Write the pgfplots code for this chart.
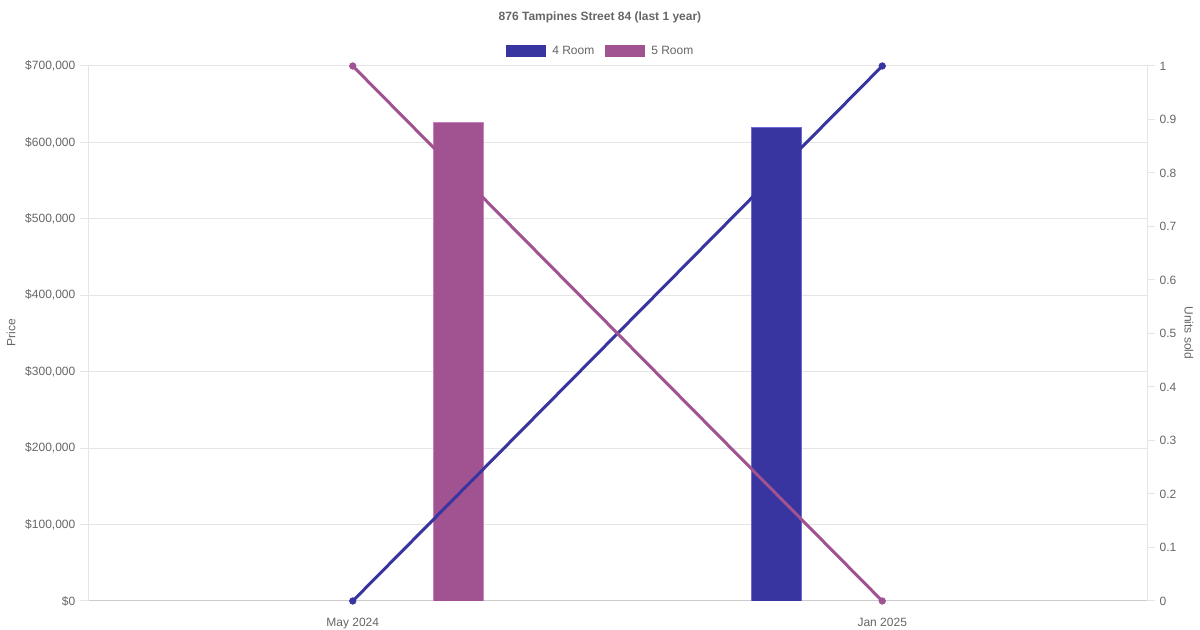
\documentclass[border=0pt]{standalone}
\usepackage{fontspec}
\setmainfont{Liberation Sans}
\usepackage{pgfplots}
\pgfplotsset{compat=1.18}
\definecolor{cfour}{RGB}{57,53,160}
\definecolor{cfive}{RGB}{160,82,145}
\definecolor{cfourl}{RGB}{110,106,210}
\definecolor{cfivel}{RGB}{200,130,185}
\definecolor{gridc}{RGB}{229,229,229}
\definecolor{axisc}{RGB}{204,204,204}
\definecolor{txt}{RGB}{102,102,102}
\begin{document}
\begin{tikzpicture}
\path[use as bounding box, fill=white] (0,0) rectangle (900pt,472.5pt);
\pgfplotsset{
  common/.style={
    at={(66pt,21.75pt)}, anchor=south west,
    width=794.25pt, height=401.25pt, scale only axis,
    xmin=-0.5, xmax=1.5,
    /pgf/number format/assume math mode=true,
    tick label style={font=\fontsize{9}{11}\selectfont, text=txt},
    tick align=outside, major tick length=6pt,
    scaled y ticks=false,
  }
}
\begin{axis}[common,
  ymin=0, ymax=700000,
  axis y line*=left, axis x line*=bottom,
  x axis line style={draw=axisc, line width=0.75pt},
  y axis line style={draw=gridc, line width=0.75pt},
  xtick={0,1}, xticklabels={May 2024, Jan 2025},
  xtick style={draw=none},
  xticklabel style={yshift=-3pt},
  ytick={0,100000,200000,300000,400000,500000,600000,700000},
  yticklabels={{\$0},{\$100,000},{\$200,000},{\$300,000},{\$400,000},{\$500,000},{\$600,000},{\$700,000}},
  ytick style={draw=gridc, line width=0.75pt},
  ymajorgrids, grid style={draw=gridc, line width=0.75pt},
  axis line style={-},
]
\addplot[ybar, bar width=37.5pt, bar shift=-79.5pt, fill=cfour, draw=cfourl, line width=0.5pt] coordinates {(1,619500)};
\addplot[ybar, bar width=37.5pt, bar shift=79.5pt, fill=cfive, draw=cfivel, line width=0.5pt] coordinates {(0,626700)};
\end{axis}
\begin{axis}[common,
  ymin=0, ymax=1, clip=false,
  axis y line*=right, axis x line=none,
  y axis line style={draw=gridc, line width=0.75pt, -},
  ytick={0,0.1,0.2,0.3,0.4,0.5,0.6,0.7,0.8,0.9,1},
  yticklabels={0,0.1,0.2,0.3,0.4,0.5,0.6,0.7,0.8,0.9,1},
  ytick style={draw=gridc, line width=0.75pt},
]
\addplot[cfour, line width=2.25pt, mark=*, mark size=2.5pt, mark options={solid, fill=cfour, draw=cfour, line width=0.4pt}] coordinates {(0,0) (1,1)};
\addplot[cfive, line width=2.25pt, mark=*, mark size=2.5pt, mark options={solid, fill=cfive, draw=cfive, line width=0.4pt}] coordinates {(0,1) (1,0)};
\end{axis}
% title
\node[font=\bfseries\fontsize{9}{11}\selectfont, text=txt] at (450pt,459.75pt) {876 Tampines Street 84 (last 1 year)};
% legend
\fill[cfour] (379.5pt,430pt) rectangle (409.5pt,439pt);
\node[anchor=west, inner sep=0pt, font=\fontsize{9}{11}\selectfont, text=txt] at (414pt,434.5pt) {4 Room};
\fill[cfive] (453.75pt,430pt) rectangle (483.75pt,439pt);
\node[anchor=west, inner sep=0pt, font=\fontsize{9}{11}\selectfont, text=txt] at (488.25pt,434.5pt) {5 Room};
% axis titles
\node[rotate=90, font=\fontsize{9}{11}\selectfont, text=txt] at (8.25pt,222.75pt) {Price};
\node[rotate=-90, font=\fontsize{9}{11}\selectfont, text=txt] at (891.75pt,222.75pt) {Units sold};
\end{tikzpicture}
\end{document}
